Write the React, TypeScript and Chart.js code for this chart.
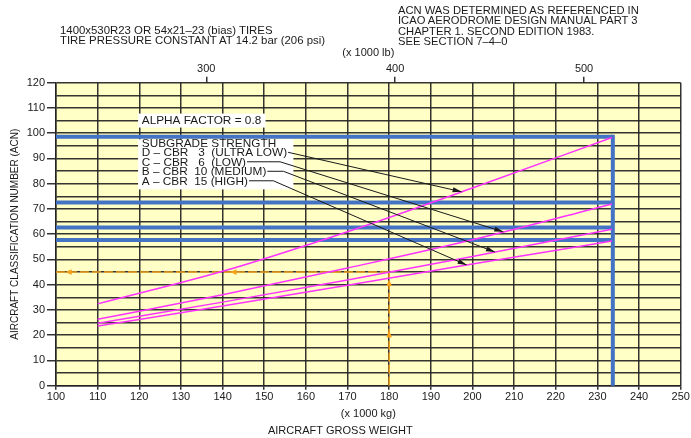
import React, { useEffect, useRef } from 'react';
import { Chart, registerables } from 'chart.js';
Chart.register(...registerables);

// ---- data ----
const weightKg = [110, 140, 170, 200, 233.5];
const acnD = [32.4, 45.3, 61.0, 78.3, 98.3]; // CBR 3 ultra low
const acnC = [26.3, 36.0, 46.6, 57.8, 72.0]; // CBR 6 low
const acnB = [24.7, 33.1, 41.9, 51.2, 62.0]; // CBR 10 medium
const acnA = [23.6, 31.6, 39.8, 48.2, 57.3]; // CBR 15 high
const maxWeightKg = 233.7;
const maxAcn = [98.6, 72.6, 62.7, 57.7]; // D, C, B, A at max weight
const exampleWeight = 180;
const exampleAcn = 45;
const lbTicks = [300, 400, 500];
const KG_PER_LB = 0.45359237;

const alphaLabel = 'ALPHA FACTOR = 0.8';
const subgradeLines = [
  'SUBGRADE STRENGTH',
  'D \u2013 CBR   3  (ULTRA LOW)',
  'C \u2013 CBR   6  (LOW)',
  'B \u2013 CBR  10 (MEDIUM)',
  'A \u2013 CBR  15 (HIGH)',
];
// leader geometry (data coords): anchor of text, bend x, tip x on curve
const alphaAnchor = { x: 120.6, y: 105 };
const subgradeAnchor = { x: 120.6, y: 96.2 };
const leaderBendX = [null, 153.8, 154.6, 152.2];
const leaderTipX = [197.4, 207.4, 205.4, 198.6];
const curves = [acnD, acnC, acnB, acnA];

const FONT = "'Liberation Sans', Arial, Helvetica, sans-serif";
const MAGENTA = '#FF33FF';
const BLUE = '#4472C4';
const ORANGE = '#F7A11A';
const GRID = 'rgba(35,35,35,0.92)';

function interp(xs: number[], ys: number[], x: number) {
  for (let i = 0; i < xs.length - 1; i++) {
    if (x >= xs[i] && x <= xs[i + 1]) {
      const t = (x - xs[i]) / (xs[i + 1] - xs[i]);
      return ys[i] + t * (ys[i + 1] - ys[i]);
    }
  }
  return ys[ys.length - 1];
}

function arrowHead(ctx: CanvasRenderingContext2D, fx: number, fy: number, tx: number, ty: number, len: number, hw: number, color: string) {
  const a = Math.atan2(ty - fy, tx - fx);
  const bx = tx - len * Math.cos(a);
  const by = ty - len * Math.sin(a);
  ctx.save();
  ctx.fillStyle = color;
  ctx.beginPath();
  ctx.moveTo(tx, ty);
  ctx.lineTo(bx + hw * Math.sin(a), by - hw * Math.cos(a));
  ctx.lineTo(bx - hw * Math.sin(a), by + hw * Math.cos(a));
  ctx.closePath();
  ctx.fill();
  ctx.restore();
}

const bgPlugin = {
  id: 'bg',
  beforeDraw(chart: any) {
    const { ctx, chartArea: a } = chart;
    ctx.save();
    ctx.fillStyle = '#FFFFC6';
    ctx.fillRect(a.left, a.top, a.right - a.left, a.bottom - a.top);
    ctx.restore();
  },
};

const annotPlugin = {
  id: 'annot',
  afterDatasetsDraw(chart: any) {
    const { ctx, scales } = chart;
    const xs = scales.x, ys = scales.y;
    const px = (v: number) => xs.getPixelForValue(v);
    const py = (v: number) => ys.getPixelForValue(v);

    // orange arrowheads
    const ex = px(exampleWeight), ey = py(exampleAcn);
    arrowHead(ctx, px(106), ey, px(102.2), ey, 6.5, 2.8, ORANGE);
    arrowHead(ctx, px(146), ey, px(141.8), ey, 6.5, 2.8, ORANGE);
    arrowHead(ctx, ex, py(38), ex, py(42.1), 6.5, 2.8, ORANGE);
    arrowHead(ctx, ex, py(17), ex, py(21.8), 6.5, 2.8, ORANGE);

    ctx.save();
    ctx.font = `11.8px ${FONT}`;
    ctx.textBaseline = 'middle';
    ctx.fillStyle = '#1a1a1a';

    // alpha factor box
    const ax = px(alphaAnchor.x), ay = py(alphaAnchor.y);
    const aw = ctx.measureText(alphaLabel).width;
    ctx.fillStyle = '#ffffff';
    ctx.fillRect(ax - 3.7, ay - 7, aw + 8, 14);
    ctx.fillStyle = '#1a1a1a';
    ctx.fillText(alphaLabel, ax, ay + 0.5);

    // subgrade box
    const sx = px(subgradeAnchor.x), sy = py(subgradeAnchor.y);
    const lh = 9.5;
    const widths = subgradeLines.map((t) => ctx.measureText(t).width);
    const maxW = Math.max(...widths);
    ctx.fillStyle = '#ffffff';
    ctx.fillRect(sx - 3.7, sy - 3.4, maxW + 10, lh * 4 + 12);
    ctx.fillStyle = '#1a1a1a';
    subgradeLines.forEach((t, i) => ctx.fillText(t, sx, sy + i * lh + 0.5));

    // leaders
    ctx.strokeStyle = '#1a1a1a';
    ctx.lineWidth = 1;
    for (let i = 0; i < 4; i++) {
      const lineY = sy + (i + 1) * lh;
      const startX = sx + widths[i + 1] + 1;
      const tipX = px(leaderTipX[i]);
      const tipY = py(interp(weightKg, curves[i], leaderTipX[i]));
      ctx.beginPath();
      ctx.moveTo(startX, lineY);
      let fromX = startX, fromY = lineY;
      const b = leaderBendX[i];
      if (b !== null) {
        ctx.lineTo(px(b), lineY);
        fromX = px(b);
      }
      ctx.lineTo(tipX, tipY);
      ctx.stroke();
      arrowHead(ctx, fromX, fromY, tipX, tipY, 9, 2.6, '#1a1a1a');
    }
    ctx.restore();
  },
};

export default function App() {
  const ref = useRef<HTMLCanvasElement | null>(null);
  useEffect(() => {
    if (!ref.current) return;
    Chart.defaults.font.family = FONT;
    Chart.defaults.color = '#1a1a1a';
    const line = (data: any[], color: string, width: number, extra: any = {}) => ({
      data,
      showLine: true,
      borderColor: color,
      backgroundColor: color,
      borderWidth: width,
      pointRadius: 0,
      fill: false,
      ...extra,
    });
    const curveDs = curves.map((c) =>
      line(weightKg.map((x, i) => ({ x, y: c[i] })), MAGENTA, 1.5, { cubicInterpolationMode: 'monotone' })
    );
    const blueDs = maxAcn.map((v) => line([{ x: 100, y: v }, { x: maxWeightKg, y: v }], BLUE, 4));
    const blueV = line([{ x: maxWeightKg, y: 0 }, { x: maxWeightKg, y: maxAcn[0] }], BLUE, 4, { borderCapStyle: 'square' });
    const orangeH = line([{ x: 100, y: exampleAcn }, { x: exampleWeight, y: exampleAcn }], ORANGE, 1.5, { borderDash: [9, 3] });
    const orangeV = line([{ x: exampleWeight, y: 0 }, { x: exampleWeight, y: exampleAcn }], ORANGE, 1.5, { borderDash: [9, 3] });

    const chart = new Chart(ref.current, {
      type: 'scatter',
      data: { datasets: [...curveDs, ...blueDs, blueV, orangeH, orangeV] as any },
      options: {
        animation: false,
        responsive: true,
        maintainAspectRatio: false,
        events: [],
        layout: { padding: { left: 0, right: 10.3, top: 0, bottom: 0 } },
        plugins: {
          legend: { display: false },
          tooltip: { enabled: false },
          title: {
            display: true,
            position: 'bottom',
            text: 'AIRCRAFT GROSS WEIGHT',
            font: { size: 11, weight: 'normal', family: FONT },
            color: '#1a1a1a',
            padding: { top: 3, bottom: 0 },
          },
        },
        scales: {
          x: {
            type: 'linear',
            position: 'bottom',
            min: 100,
            max: 250,
            ticks: { stepSize: 10, font: { size: 11 }, padding: 1, maxRotation: 0, autoSkip: false },
            grid: { color: GRID, lineWidth: 1.5, tickLength: 4, tickColor: GRID },
            border: { color: GRID, width: 1.5 },
            title: { display: true, text: '(x 1000 kg)', font: { size: 11 }, padding: { top: 0, bottom: 1.6 } },
            afterFit: (s: any) => { s.height = 36.1; s.paddingLeft = 0; s.paddingRight = 0; },
          },
          x2: {
            type: 'linear',
            position: 'top',
            min: 100 / KG_PER_LB,
            max: 250 / KG_PER_LB,
            afterBuildTicks: (s: any) => { s.ticks = lbTicks.map((v) => ({ value: v })); },
            ticks: { font: { size: 11 }, padding: 1, maxRotation: 0, autoSkip: false, callback: (v: any) => String(v) },
            grid: { drawOnChartArea: false, tickLength: 6, tickColor: GRID, lineWidth: 1.5 },
            border: { display: false },
            title: { display: true, text: '(x 1000 lb)', font: { size: 11 }, padding: { top: 46.6, bottom: 0 } },
            afterFit: (s: any) => { s.height = 82.7; s.paddingLeft = 0; s.paddingRight = 0; },
          },
          y: {
            type: 'linear',
            min: 0,
            max: 120,
            ticks: {
              stepSize: 5,
              font: { size: 11 },
              padding: 2,
              autoSkip: false,
              callback: (v: any) => (Number(v) % 10 === 0 ? String(v) : ''),
            },
            grid: {
              color: GRID,
              lineWidth: 1.5,
              tickLength: 9,
              tickColor: (c: any) => (c.tick && c.tick.value % 10 === 0 ? GRID : 'rgba(0,0,0,0)'),
            },
            border: { color: GRID, width: 1.5 },
            title: {
              display: true,
              text: 'AIRCRAFT CLASSIFICATION NUMBER (ACN)',
              font: { size: 10 },
              padding: { top: 9, bottom: 0 },
            },
            afterFit: (s: any) => { s.width = 56; s.paddingTop = 0; s.paddingBottom = 0; },
          },
        },
      } as any,
      plugins: [bgPlugin, annotPlugin],
    });
    return () => chart.destroy();
  }, []);

  const hdr: React.CSSProperties = {
    position: 'absolute',
    fontFamily: FONT,
    fontSize: '11.4px',
    lineHeight: '10.5px',
    color: '#1a1a1a',
    whiteSpace: 'pre',
    zIndex: 2,
  };
  return (
    <div style={{ position: 'absolute', left: 0, top: 0, width: 691, height: 438, background: '#fff' }}>
      <div style={{ position: 'absolute', left: 0, top: 0, width: 691, height: 438 }}>
        <canvas ref={ref} />
      </div>
      <div style={{ ...hdr, left: 60, top: 24.6 }}>
        {'1400x530R23 OR 54x21\u201323 (bias) TIRES\nTIRE PRESSURE CONSTANT AT 14.2 bar (206 psi)'}
      </div>
      <div style={{ ...hdr, left: 398, top: 4.8, fontSize: '11.2px', lineHeight: '10.4px' }}>
        {'ACN WAS DETERMINED AS REFERENCED IN\nICAO AERODROME DESIGN MANUAL PART 3\nCHAPTER 1. SECOND EDITION 1983.\nSEE SECTION 7\u20134\u20130'}
      </div>
    </div>
  );
}
